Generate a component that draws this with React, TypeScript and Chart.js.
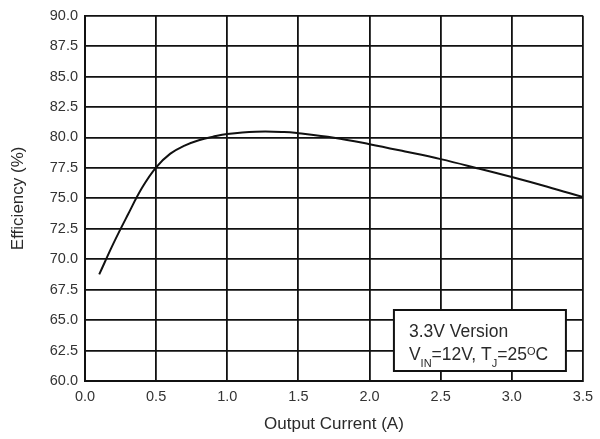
import React, { useEffect, useRef } from "react";
import { Chart, registerables } from "chart.js";

Chart.register(...registerables);

// Output current (A)
const currentA = [0.1, 0.2, 0.3, 0.4, 0.5, 0.6, 0.7, 0.8, 0.9, 1.0, 1.2, 1.4, 1.5, 1.75, 2.0, 2.25, 2.5, 2.75, 3.0, 3.25, 3.5];
// Efficiency (%)
const efficiency = [68.75, 71.3, 73.63, 75.85, 77.55, 78.67, 79.33, 79.77, 80.06, 80.28, 80.47, 80.45, 80.35, 79.98, 79.45, 78.85, 78.22, 77.5, 76.75, 75.95, 75.1];

const xTicks = [0, 0.5, 1.0, 1.5, 2.0, 2.5, 3.0, 3.5];
const yTicks = [60, 62.5, 65, 67.5, 70, 72.5, 75, 77.5, 80, 82.5, 85, 87.5, 90];

const xTitle = "Output Current (A)";
const yTitle = "Efficiency (%)";
const noteLine1 = "3.3V Version";

const FONT = "'Liberation Sans', Arial, Helvetica, sans-serif";

const notePlugin = {
  id: "noteBox",
  afterDraw(chart: any) {
    const { ctx, chartArea } = chart;
    const w = 172;
    const h = 61;
    const right = chartArea.right - 17;
    const bottom = chartArea.bottom - 10;
    const left = right - w;
    const top = bottom - h;
    ctx.save();
    ctx.fillStyle = "#ffffff";
    ctx.fillRect(left, top, w, h);
    ctx.strokeStyle = "#111";
    ctx.lineWidth = 2;
    ctx.strokeRect(left, top, w, h);
    ctx.fillStyle = "#2a2a2a";
    ctx.textBaseline = "alphabetic";
    ctx.textAlign = "left";
    const big = `17.5px ${FONT}`;
    const small = `11px ${FONT}`;
    ctx.font = big;
    ctx.fillText(noteLine1, left + 15, top + 27);
    const parts: [string, string, number][] = [
      ["V", big, 0],
      ["IN", small, 7],
      ["=12V, T", big, 0],
      ["J", small, 7],
      ["=25", big, 0],
      ["O", small, -5.5],
      ["C", big, 0],
    ];
    let x = left + 15;
    const base = top + 50;
    for (const [t, f, dy] of parts) {
      ctx.font = f;
      ctx.fillText(t, x, base + dy);
      x += ctx.measureText(t).width;
    }
    ctx.restore();
  },
};

export default function App() {
  const ref = useRef<HTMLCanvasElement>(null);
  useEffect(() => {
    if (!ref.current) return;
    const data = currentA.map((x, i) => ({ x, y: efficiency[i] }));
    const chart = new Chart(ref.current, {
      type: "line",
      data: {
        datasets: [
          {
            data,
            borderColor: "#111",
            borderWidth: 2,
            pointRadius: 0,
            tension: 0.4,
            fill: false,
          },
        ],
      },
      options: {
        animation: false,
        responsive: false,
        devicePixelRatio: 1,
        layout: { padding: { top: 14, right: 13, bottom: 0, left: 0 } },
        plugins: { legend: { display: false }, tooltip: { enabled: false } },
        scales: {
          x: {
            type: "linear",
            min: 0,
            max: 3.5,
            afterBuildTicks: (s: any) => {
              s.ticks = xTicks.map((v) => ({ value: v }));
            },
            afterFit: (s: any) => {
              s.height = 58;
            },
            ticks: {
              callback: (v: any) => Number(v).toFixed(1),
              font: { family: FONT, size: 14.5 },
              color: "#333",
              padding: 7,
              maxRotation: 0,
            },
            grid: { color: "#111", lineWidth: 1.8, drawTicks: false },
            border: { display: true, color: "#111", width: 2 },
            title: {
              display: true,
              text: xTitle,
              font: { family: FONT, size: 17 },
              color: "#2a2a2a",
              padding: { top: 0, bottom: 4 },
            },
          },
          y: {
            type: "linear",
            min: 60,
            max: 90,
            afterBuildTicks: (s: any) => {
              s.ticks = yTicks.map((v) => ({ value: v }));
            },
            afterFit: (s: any) => {
              s.width = 85;
            },
            ticks: {
              callback: (v: any) => Number(v).toFixed(1),
              font: { family: FONT, size: 14.5 },
              color: "#333",
              padding: 7,
            },
            grid: { color: "#111", lineWidth: 1.8, drawTicks: false },
            border: { display: true, color: "#111", width: 2 },
            title: {
              display: true,
              text: yTitle,
              font: { family: FONT, size: 17 },
              color: "#2a2a2a",
              padding: { top: 8, bottom: 0 },
            },
          },
        },
      },
      plugins: [notePlugin],
    } as any);
    return () => chart.destroy();
  }, []);
  return (
    <div style={{ position: "absolute", left: 0, top: 0, width: 600, height: 439, background: "#fff" }}>
      <canvas ref={ref} width={600} height={439} style={{ display: "block" }} />
    </div>
  );
}
